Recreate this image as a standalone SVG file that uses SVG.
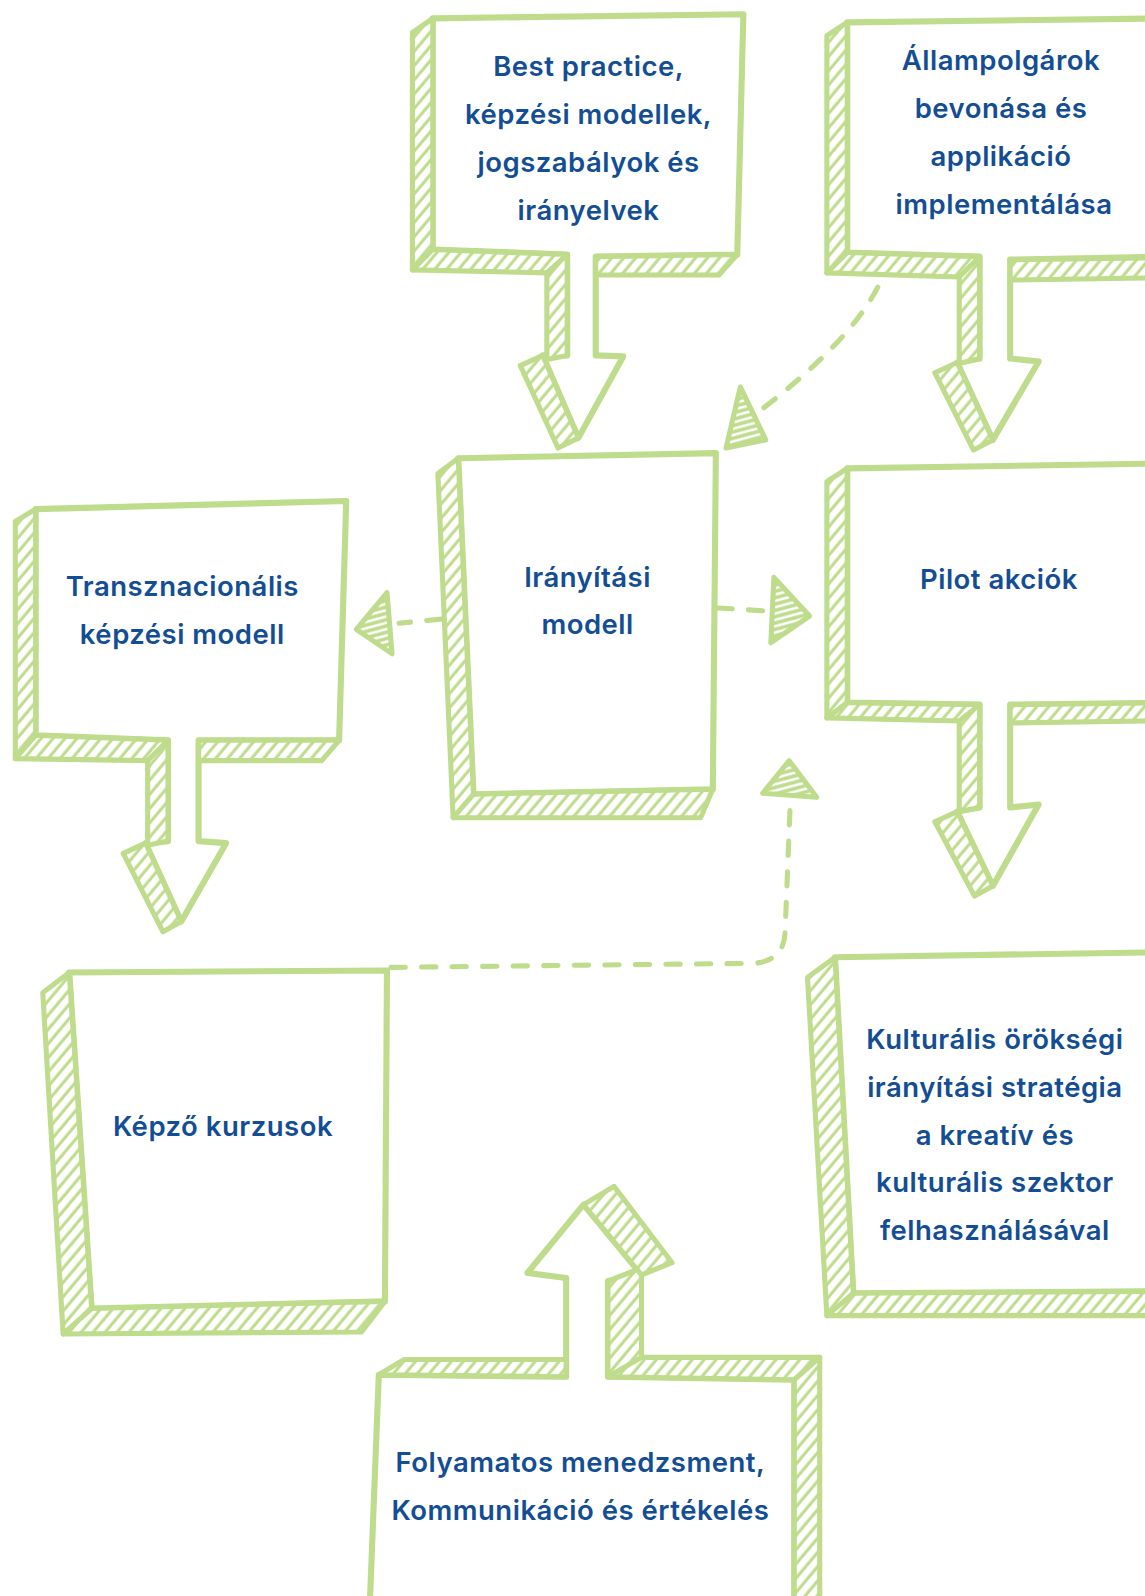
<svg xmlns="http://www.w3.org/2000/svg" width="1145" height="1596" viewBox="0 0 1145 1596">
<defs>
<pattern id="hatch" patternUnits="userSpaceOnUse" width="9" height="9" patternTransform="rotate(40)">
<rect width="9" height="9" fill="#fff"/>
<line x1="2" y1="0" x2="2" y2="9" stroke="#bedc8c" stroke-width="3"/>
</pattern>
<pattern id="scrib" patternUnits="userSpaceOnUse" width="6" height="6" patternTransform="rotate(75)">
<rect width="6" height="6" fill="#fff"/>
<line x1="2" y1="0" x2="2" y2="6" stroke="#bedc8c" stroke-width="3.5"/>
</pattern>
</defs>
<style>
.o{fill:#fff;stroke:#bedc8c;stroke-width:6;stroke-linejoin:round;stroke-linecap:round}
.h{fill:url(#hatch);stroke:#bedc8c;stroke-width:5;stroke-linejoin:round;stroke-linecap:round}
.e{fill:none;stroke:#bedc8c;stroke-width:5;stroke-linecap:round}
.ah{fill:url(#scrib);stroke:#bedc8c;stroke-width:5;stroke-linejoin:round}
.d{fill:none;stroke:#bedc8c;stroke-width:5;stroke-dasharray:14 16;stroke-linecap:round}
.t{font-family:Inter,"Open Sans","Liberation Sans",sans-serif;font-weight:600;font-size:27px;letter-spacing:0.5px;fill:#134e94;text-anchor:middle}
</style>
<rect width="1145" height="1596" fill="#fff"/>
<g transform="scale(1.0183)">
<g id="connectors">
<path class="d" d="M862,282 Q835,335 748,402"/>
<polygon class="ah" points="727,380 713,440 752,432"/>
<path class="d" d="M433,608 L392,612"/>
<polygon class="ah" points="380,582 350,618 385,642"/>
<path class="d" d="M705,597 L752,600"/>
<polygon class="ah" points="760,567 795,605 757,631"/>
<path class="d" d="M384,950 L740,946 Q770,944 771,915 L776,790"/>
<polygon class="ah" points="775,747 749,779 802,783"/>
</g>

<g id="node-best-practice">
<path class="o" d="M425,18 L730,14 L724,250 L585,252 L585,349 L612,350 L568,430 L533,349 L557,349 L557,250 L425,245 Z"/>
<polygon class="h" points="425,18 405,32 405,265 537,268 537,353 557,349 557,250 425,245"/>
<polygon class="h" points="585,252 724,250 706,270 585,270"/>
<polygon class="h" points="533,349 568,430 548,440 511,359"/>
<path class="e" d="M425,245 L405,265 M557,250 L537,268"/>
<text class="t" x="578" y="75">Best practice,</text>
<text class="t" x="578" y="122">képzési modellek,</text>
<text class="t" x="578" y="169">jogszabályok és</text>
<text class="t" x="578" y="216">irányelvek</text>
</g>

<g id="node-allampolgarok">
<path class="o" d="M832,22 L1150,18 L1150,252 L992,255 L992,352 L1020,355 L975,432 L940,356 L962,352 L962,252 L832,248 Z"/>
<polygon class="h" points="832,22 812,35 812,268 942,272 942,357 962,352 962,252 832,248"/>
<polygon class="h" points="992,255 1147,253 1130,273 992,275"/>
<polygon class="h" points="940,356 975,432 956,442 918,366"/>
<path class="e" d="M832,248 L812,268 M962,252 L942,272"/>
<text class="t" x="983" y="69">Állampolgárok</text>
<text class="t" x="983" y="116">bevonása és</text>
<text class="t" x="983" y="163">applikáció</text>
<text class="t" x="986" y="210">implementálása</text>
</g>

<g id="node-iranyitasi">
<path class="o" d="M450,450 L703,445 L700,775 L465,780 Z"/>
<polygon class="h" points="450,450 430,465 445,803 688,803 700,775 465,780"/>
<path class="e" d="M465,780 L445,803"/>
<text class="t" x="577" y="576">Irányítási</text>
<text class="t" x="577" y="623">modell</text>
</g>

<g id="node-transznacionalis">
<path class="o" d="M35,500 L340,492 L333,727 L195,727 L195,826 L222,828 L178,905 L143,828 L165,826 L165,727 L35,722 Z"/>
<polygon class="h" points="35,500 15,512 15,745 145,747 145,830 165,826 165,727 35,722"/>
<polygon class="h" points="195,727 333,727 316,747 195,747"/>
<polygon class="h" points="143,828 178,905 160,915 121,838"/>
<path class="e" d="M35,722 L15,745 M165,727 L145,747"/>
<text class="t" x="179" y="585">Transznacionális</text>
<text class="t" x="179" y="632">képzési modell</text>
</g>

<g id="node-pilot">
<path class="o" d="M832,460 L1150,455 L1150,690 L992,692 L992,793 L1020,790 L975,870 L940,797 L962,793 L962,692 L832,690 Z"/>
<polygon class="h" points="832,460 812,473 812,705 942,708 942,797 962,793 962,692 832,690"/>
<polygon class="h" points="992,692 1147,690 1132,708 992,710"/>
<polygon class="h" points="940,797 975,870 957,880 918,807"/>
<path class="e" d="M832,690 L812,705 M962,692 L942,708"/>
<text class="t" x="981" y="578">Pilot akciók</text>
</g>

<g id="node-kepzo">
<path class="o" d="M68,955 L380,953 L378,1278 L90,1285 Z"/>
<polygon class="h" points="68,955 42,975 62,1310 355,1308 378,1278 90,1285"/>
<path class="e" d="M90,1285 L62,1310"/>
<text class="t" x="219" y="1116">Képző kurzusok</text>
</g>

<g id="node-kulturalis">
<path class="o" d="M820,940 L1150,935 L1150,1268 L838,1270 Z"/>
<polygon class="h" points="820,940 793,960 812,1292 1130,1292 1148,1268 838,1270"/>
<path class="e" d="M838,1270 L812,1292"/>
<text class="t" x="977" y="1030">Kulturális örökségi</text>
<text class="t" x="977" y="1077">irányítási stratégia</text>
<text class="t" x="977" y="1124">a kreatív és</text>
<text class="t" x="977" y="1171">kulturális szektor</text>
<text class="t" x="977" y="1218">felhasználásával</text>
</g>

<g id="node-folyamatos">
<path class="o" d="M372,1350 L556,1352 L556,1255 L518,1250 L573,1183 L630,1252 L597,1258 L597,1352 L780,1355 L780,1605 L362,1605 Z"/>
<polygon class="h" points="372,1350 397,1335 556,1335 556,1352"/>
<polygon class="h" points="597,1258 630,1245 630,1333 805,1333 780,1355 597,1352"/>
<polygon class="h" points="780,1355 805,1333 805,1605 780,1605"/>
<polygon class="h" points="573,1183 603,1165 660,1240 630,1252"/>
<path class="e" d="M597,1352 L630,1333"/>
<text class="t" x="570" y="1446">Folyamatos menedzsment,</text>
<text class="t" x="570" y="1493">Kommunikáció és értékelés</text>
</g>
</g>
</svg>
